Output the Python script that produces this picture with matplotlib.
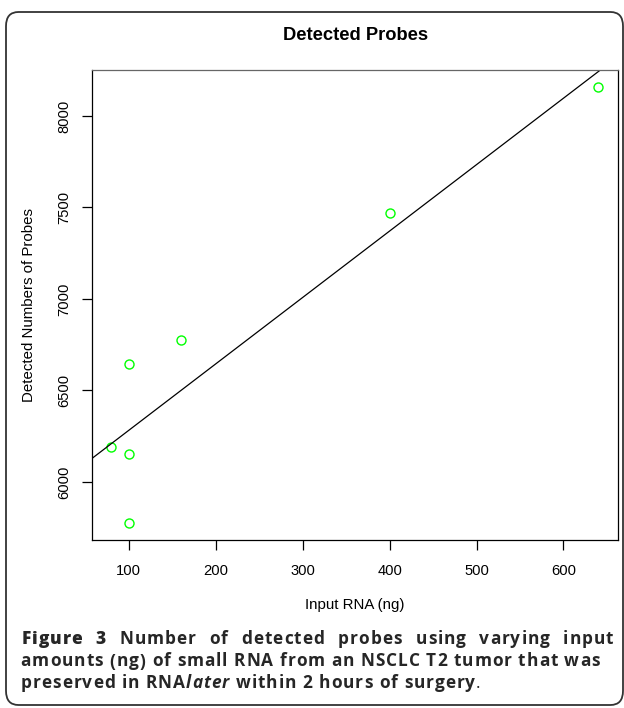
import numpy as np
import matplotlib
matplotlib.use("Agg")
import matplotlib.pyplot as plt
from matplotlib.patches import FancyBboxPatch
from matplotlib.font_manager import FontProperties, findfont
from matplotlib.ft2font import FT2Font

# data
input_rna = [80, 100, 100, 100, 160, 400, 640]
detected = [6191, 6154, 5778, 6647, 6775, 7470, 8156]
x_ticks = [100, 200, 300, 400, 500, 600]
y_ticks = [6000, 6500, 7000, 7500, 8000]
title = "Detected Probes"
xlabel = "Input RNA (ng)"
ylabel = "Detected Numbers of Probes"

W, H = 624, 708
fig = plt.figure(figsize=(W / 100, H / 100), dpi=100)
fig.patch.set_facecolor("white")

# border
border = FancyBboxPatch((6 / W, 3 / H), 617 / W, 693 / H,
                        boxstyle="round,pad=0,rounding_size=0.02",
                        transform=fig.transFigure, fill=False,
                        edgecolor="#333333", linewidth=1.3)
fig.patches.append(border)

ax = fig.add_axes([92 / W, 1 - 540 / H, (617.7 - 92) / W, (540 - 70) / H])
ax.plot(input_rna, detected, "o", mfc="none", mec="#00ff00", ms=6.5, mew=1.0)

xr = (min(input_rna), max(input_rna))
yr = (min(detected), max(detected))
dx = (xr[1] - xr[0]) * 0.04
dy = (yr[1] - yr[0]) * 0.04
ax.set_xlim(xr[0] - dx, xr[1] + dx)
ax.set_ylim(yr[0] - dy, yr[1] + dy)

coef = np.polyfit(input_rna, detected, 1)
xs = np.array([xr[0] - dx, xr[1] + dx + 50])
ax.plot(xs, np.polyval(coef, xs), color="black", lw=0.9)

ax.set_xticks(x_ticks)
ax.set_yticks(y_ticks)
ax.set_yticklabels([str(v) for v in y_ticks], rotation=90, va="center")
ax.tick_params(direction="out", length=7, width=0.9, labelsize=10.6)
ax.tick_params(axis="x", pad=10.5)
ax.tick_params(axis="y", pad=8)
for lab in ax.get_xticklabels() + ax.get_yticklabels():
    lab.set_family("Liberation Sans")
for s in ax.spines.values():
    s.set_linewidth(0.9)
ax.spines["top"].set_color("#666666")

fig.text(356 / W, 1 - 35 / H, title, ha="center", va="center",
         family="Liberation Sans", weight="bold", fontsize=13.2)
fig.text(355 / W, 1 - 605 / H, xlabel, ha="center", va="center",
         family="Liberation Sans", fontsize=10.8)
fig.text(29 / W, 1 - 305 / H, ylabel, ha="center", va="center",
         rotation=90, family="Liberation Sans", fontsize=10.8)

# caption, drawn char by char with tracking
cap_color = "#262626"
fs = 12.4
_fonts = {}


def metrics(c, wt, st):
    key = (wt, st)
    if key not in _fonts:
        path = findfont(FontProperties(family="Open Sans", weight=wt, style=st))
        f = FT2Font(path)
        f.set_size(fs, 100)
        _fonts[key] = f
    f = _fonts[key]
    g = f.load_char(ord(c))
    return g.linearHoriAdvance / 65536.0


def expand(segments):
    items = []
    for txt, wt, st in segments:
        for c in txt:
            items.append((c, wt, st))
    return items


def natural(items):
    return sum(metrics(c, wt, st) for c, wt, st in items)


line1 = expand([("Figure 3 ", "heavy", "normal"),
                ("Number of detected probes using varying input", "bold", "normal")])
line2 = expand([("amounts (ng) of small RNA from an NSCLC T2 tumor that was", "bold", "normal")])
line3 = expand([("preserved in RNA", "bold", "normal"), ("later", "bold", "italic"),
                (" within 2 hours of surgery", "bold", "normal"), (".", "normal", "normal")])

# tracking chosen so that line 2 spans its width in the reference
TRACK = max(0.0, (601.5 - 22 - natural(line2)) / (len(line2) - 1))


def draw_line(items, y, x0, x1=None):
    extra = 0.0
    nsp = sum(1 for c, _, _ in items if c == " ")
    if x1 is not None and nsp:
        total = natural(items) + TRACK * (len(items) - 1)
        extra = (x1 - x0 - total) / nsp
    x = x0
    for c, wt, st in items:
        adv = metrics(c, wt, st)
        if c == " ":
            x += adv + TRACK + extra
            continue
        fig.text(x / W, 1 - y / H, c, ha="left", va="baseline", family="Open Sans",
                 weight=wt, style=st, fontsize=fs, color=cap_color)
        x += adv + TRACK


draw_line(line1, 644.5, 21.5, 613.5)
draw_line(line2, 666.5, 20.5)
draw_line(line3, 688.5, 20.5)

fig.savefig("out.png", dpi=100)
